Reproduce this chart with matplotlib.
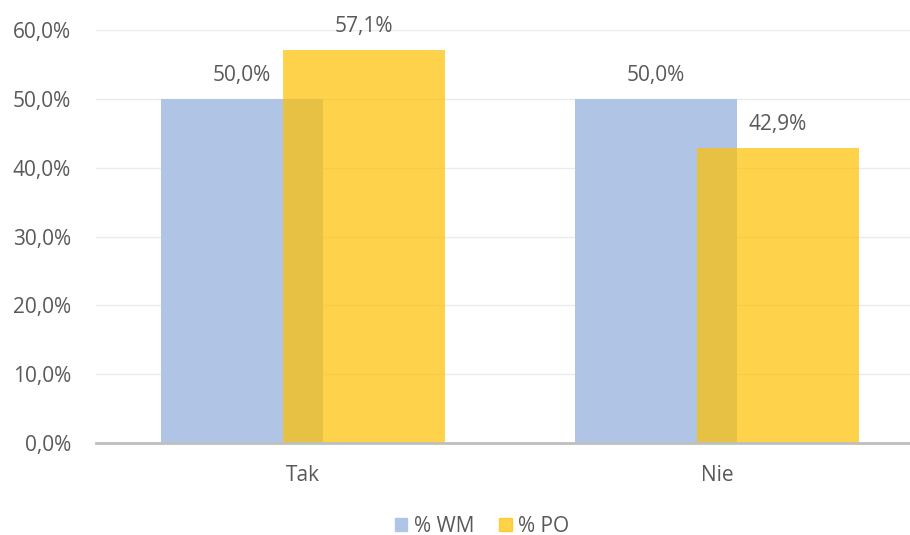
#!/usr/bin/env python3

import matplotlib.pyplot as plt
import numpy as np
from matplotlib.patches import Patch
from matplotlib.ticker import FuncFormatter

CATEGORIES = ["Tak", "Nie"]
WM_VALUES = [50.0, 50.0]
PO_VALUES = [57.1, 42.9]
SERIES_LABELS = ["% WM", "% PO"]

BLUE = "#B0C4E6"
YELLOW = "#FFC000"
TEXT = "#595959"
FS = 15

plt.rcParams["font.family"] = ["Open Sans", "DejaVu Sans"]

fig = plt.figure(figsize=(9.1, 5.35), dpi=100)
ax = fig.add_axes([96 / 910, 92 / 535, (910 - 96) / 910, 413 / 535])

x = np.arange(len(CATEGORIES))
offset = 0.147
width = 0.391
bars_wm = ax.bar(x - offset, WM_VALUES, width, color=BLUE, zorder=2)
bars_po = ax.bar(x + offset, PO_VALUES, width, color=YELLOW, alpha=0.7, zorder=3)

for bars, values in ((bars_wm, WM_VALUES), (bars_po, PO_VALUES)):
    for bar, value in zip(bars, values):
        ax.annotate(f"{value:.1f}".replace(".", ",") + "%",
                    (bar.get_x() + bar.get_width() / 2, value),
                    xytext=(0, 9), textcoords="offset points",
                    ha="center", va="bottom", fontsize=FS, color=TEXT)

ax.set_xlim(-0.5, -0.5 + (910 - 96) / 414)
ax.set_ylim(0, 60)
ax.set_yticks(np.arange(0, 61, 10))
ax.yaxis.set_major_formatter(FuncFormatter(lambda v, _: f"{v:.1f}".replace(".", ",") + "%"))
ax.set_xticks(x, CATEGORIES)
ax.tick_params(axis="both", length=0, labelsize=FS, labelcolor=TEXT)
ax.tick_params(axis="x", pad=16)
ax.tick_params(axis="y", pad=18)
ax.grid(True, axis="y", color="#EBEBEB", linewidth=1, zorder=0)
ax.set_axisbelow(True)
for side in ("top", "right", "left"):
    ax.spines[side].set_visible(False)
ax.spines["bottom"].set_color("#BFBFBF")
ax.spines["bottom"].set_linewidth(2)
ax.spines["bottom"].set_zorder(4)

handles = [Patch(color=BLUE), Patch(color=YELLOW, alpha=0.7)]
fig.legend(handles, SERIES_LABELS, loc="center", bbox_to_anchor=(482 / 910, 1 - 526 / 535),
           ncol=2, frameon=False, fontsize=FS, labelcolor=TEXT,
           handlelength=0.6, handleheight=0.6, handletextpad=0.3, columnspacing=1.2)

fig.savefig("out.png", dpi=100)
